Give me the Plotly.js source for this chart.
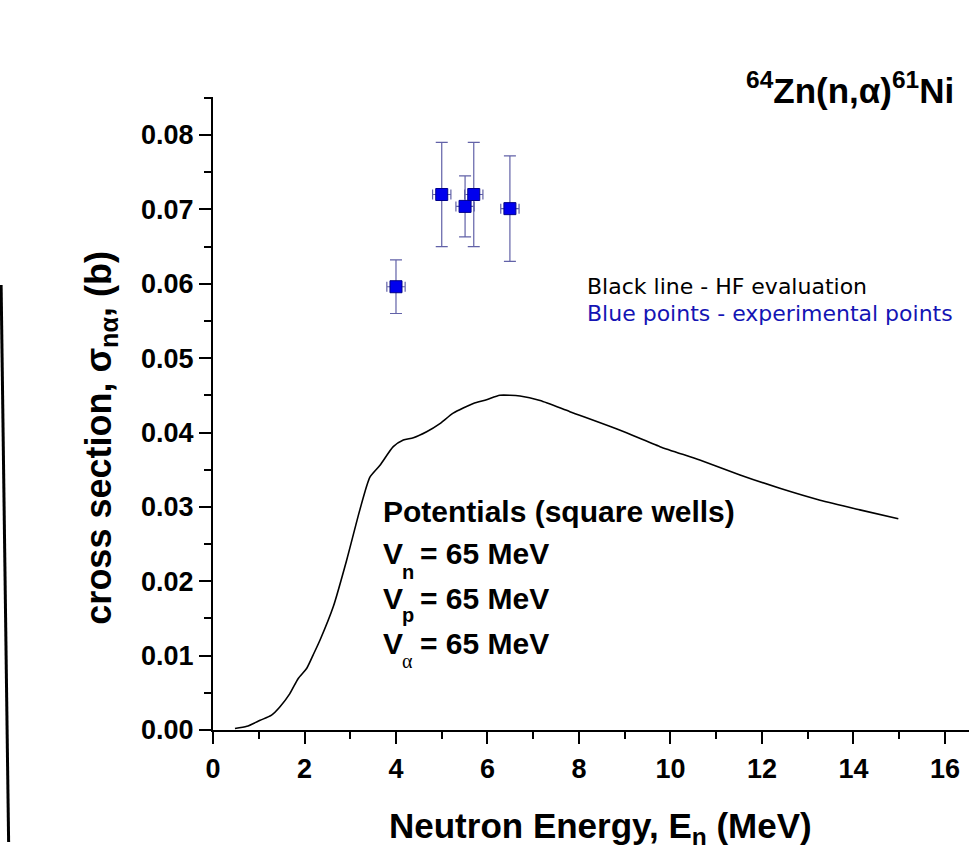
<!DOCTYPE html>
<html>
<head>
<meta charset="utf-8">
<script src="https://cdn.plot.ly/plotly-3.0.1.min.js"></script>
<style>html,body{margin:0;padding:0;overflow:hidden;background:#fff}</style>
</head>
<body>
<div id="chart" style="width:969px;height:848px"></div>
<script>
// HF evaluation curve (black line)
const hfEnergy = [0.48, 0.74, 1.03, 1.28, 1.46, 1.68, 1.86, 2.05, 2.19, 2.34, 2.63, 2.92, 3.21, 3.43, 3.65, 3.94, 4.16, 4.38, 4.67, 4.96, 5.25, 5.69, 5.98, 6.27, 6.71, 7.15, 7.80, 8.90, 9.77, 10.64, 11.52, 12.39, 13.27, 14.14, 14.98];
const hfSigma = [0.0002, 0.0005, 0.0013, 0.0020, 0.0031, 0.0049, 0.0069, 0.0083, 0.0101, 0.0121, 0.0166, 0.0228, 0.0296, 0.0340, 0.0356, 0.0381, 0.0390, 0.0393, 0.0401, 0.0412, 0.0426, 0.0439, 0.0444, 0.0450, 0.0449, 0.0443, 0.0428, 0.0403, 0.0381, 0.0363, 0.0343, 0.0325, 0.0309, 0.0296, 0.0284];

// Experimental points (blue)
const expEnergy = [4.00, 5.00, 5.51, 5.70, 6.49];
const expSigma = [0.0596, 0.0720, 0.0704, 0.0720, 0.0701];
const expSigmaErr = [0.0036, 0.0070, 0.0041, 0.0070, 0.0071];
const expEnergyErr = [0.20, 0.20, 0.20, 0.20, 0.20];

// Tick labels
const xTickVals = [0, 2, 4, 6, 8, 10, 12, 14, 16];
const yTickVals = [0, 0.01, 0.02, 0.03, 0.04, 0.05, 0.06, 0.07, 0.08];

// pixel helpers for paper-referenced decorations
const W = 969, H = 848, L = 213.3, R = 969, T = 97, B = 730;
const px = p => (p - L) / (R - L);
const py = p => (B - p) / (B - T);

const FONT = 'Liberation Sans, Arial, sans-serif';

const traces = [
  {
    x: hfEnergy, y: hfSigma, type: 'scatter', mode: 'lines',
    line: {color: '#000000', width: 1.6, shape: 'spline', smoothing: 0.6},
    hoverinfo: 'skip', showlegend: false
  },
  {
    x: expEnergy, y: expSigma, type: 'scatter', mode: 'markers',
    marker: {symbol: 'square', size: 12, color: '#0000ee', line: {color: '#00008b', width: 1}},
    error_y: {type: 'data', array: expSigmaErr, visible: true, color: '#6262a8', thickness: 1.2, width: 6},
    error_x: {type: 'data', array: expEnergyErr, visible: true, color: '#6262a8', thickness: 1.2, width: 5},
    showlegend: false
  }
];

const annotations = [
  {text: '<sup>64</sup>Zn(n,α)<sup>61</sup>Ni', xref: 'paper', yref: 'paper', x: px(956), y: py(88),
   xanchor: 'right', yanchor: 'middle', showarrow: false,
   font: {family: FONT, size: 35, color: '#000', weight: 'bold'}},
  {text: 'Black line - HF evaluation', xref: 'paper', yref: 'paper', x: px(585), y: py(286),
   xanchor: 'left', yanchor: 'middle', showarrow: false,
   font: {family: 'DejaVu Sans, sans-serif', size: 22, color: '#000'}},
  {text: 'Blue points - experimental points', xref: 'paper', yref: 'paper', x: px(585), y: py(313),
   xanchor: 'left', yanchor: 'middle', showarrow: false,
   font: {family: 'DejaVu Sans, sans-serif', size: 22, color: '#1414b4'}},
  {text: 'Potentials (square wells)', xref: 'paper', yref: 'paper', x: px(381), y: py(511),
   xanchor: 'left', yanchor: 'middle', showarrow: false,
   font: {family: FONT, size: 30, color: '#000', weight: 'bold'}},
  // x axis title
  {text: 'Neutron Energy, E<sub>n</sub> (MeV)', xref: 'paper', yref: 'paper', x: px(601), y: py(828),
   xanchor: 'center', yanchor: 'middle', showarrow: false,
   font: {family: FONT, size: 35, color: '#000', weight: 'bold'}},
  // y axis title
  {text: 'cross section, σ<sub>nα</sub>, (b)', xref: 'paper', yref: 'paper', x: px(101), y: py(438),
   xanchor: 'center', yanchor: 'middle', textangle: -90, showarrow: false,
   font: {family: FONT, size: 36, color: '#000', weight: 'bold'}}
];

const potLines = [553, 598, 643];
const potSubs = ['n', 'p', 'α'];
const potSubY = [572, 615, 661];
potLines.forEach((yy, i) => {
  annotations.push({text: 'V', xref: 'paper', yref: 'paper', x: px(381), y: py(yy),
    xanchor: 'left', yanchor: 'middle', showarrow: false,
    font: {family: FONT, size: 30, color: '#000', weight: 'bold'}});
  annotations.push({text: '= 65 MeV', xref: 'paper', yref: 'paper', x: px(418), y: py(yy),
    xanchor: 'left', yanchor: 'middle', showarrow: false,
    font: {family: FONT, size: 30, color: '#000', weight: 'bold'}});
  annotations.push({text: potSubs[i], xref: 'paper', yref: 'paper', x: px(408), y: py(potSubY[i]),
    xanchor: 'center', yanchor: 'middle', showarrow: false,
    font: i === 2 ? {family: 'Liberation Serif, serif', size: 20, color: '#000'}
                  : {family: FONT, size: 20, color: '#000', weight: 'bold'}});
});

const layout = {
  width: W, height: H,
  paper_bgcolor: '#ffffff', plot_bgcolor: '#ffffff',
  margin: {l: L, r: W - R, t: T, b: H - B, pad: 0},
  showlegend: false,
  xaxis: {
    range: [0, (R - L) / 45.73], showgrid: false, zeroline: false,
    showline: true, linecolor: '#000', linewidth: 2,
    ticks: 'outside', ticklen: 12, tickwidth: 2, tickcolor: '#000',
    tickvals: xTickVals, ticktext: xTickVals.map(String),
    tickfont: {family: FONT, size: 27, color: '#000', weight: 'bold'},
    ticklabelstandoff: 2,
    minor: {ticks: 'outside', dtick: 1, ticklen: 7, tickwidth: 2, tickcolor: '#000', showgrid: false}
  },
  yaxis: {
    range: [0, (B - T) / 7437.5], showgrid: false, zeroline: false,
    showline: true, linecolor: '#000', linewidth: 2,
    ticks: 'outside', ticklen: 12, tickwidth: 2, tickcolor: '#000',
    tickvals: yTickVals, ticktext: yTickVals.map(v => v.toFixed(2)),
    tickfont: {family: FONT, size: 27, color: '#000', weight: 'bold'},
    minor: {ticks: 'outside', dtick: 0.005, ticklen: 7, tickwidth: 2, tickcolor: '#000', showgrid: false}
  },
  annotations: annotations,
  shapes: [
    {type: 'line', xref: 'paper', yref: 'paper', x0: px(1.5), y0: py(285), x1: px(9), y1: py(842),
     line: {color: '#000', width: 3}}
  ]
};

Plotly.newPlot('chart', traces, layout, {displayModeBar: false, staticPlot: true});
</script>
</body>
</html>
